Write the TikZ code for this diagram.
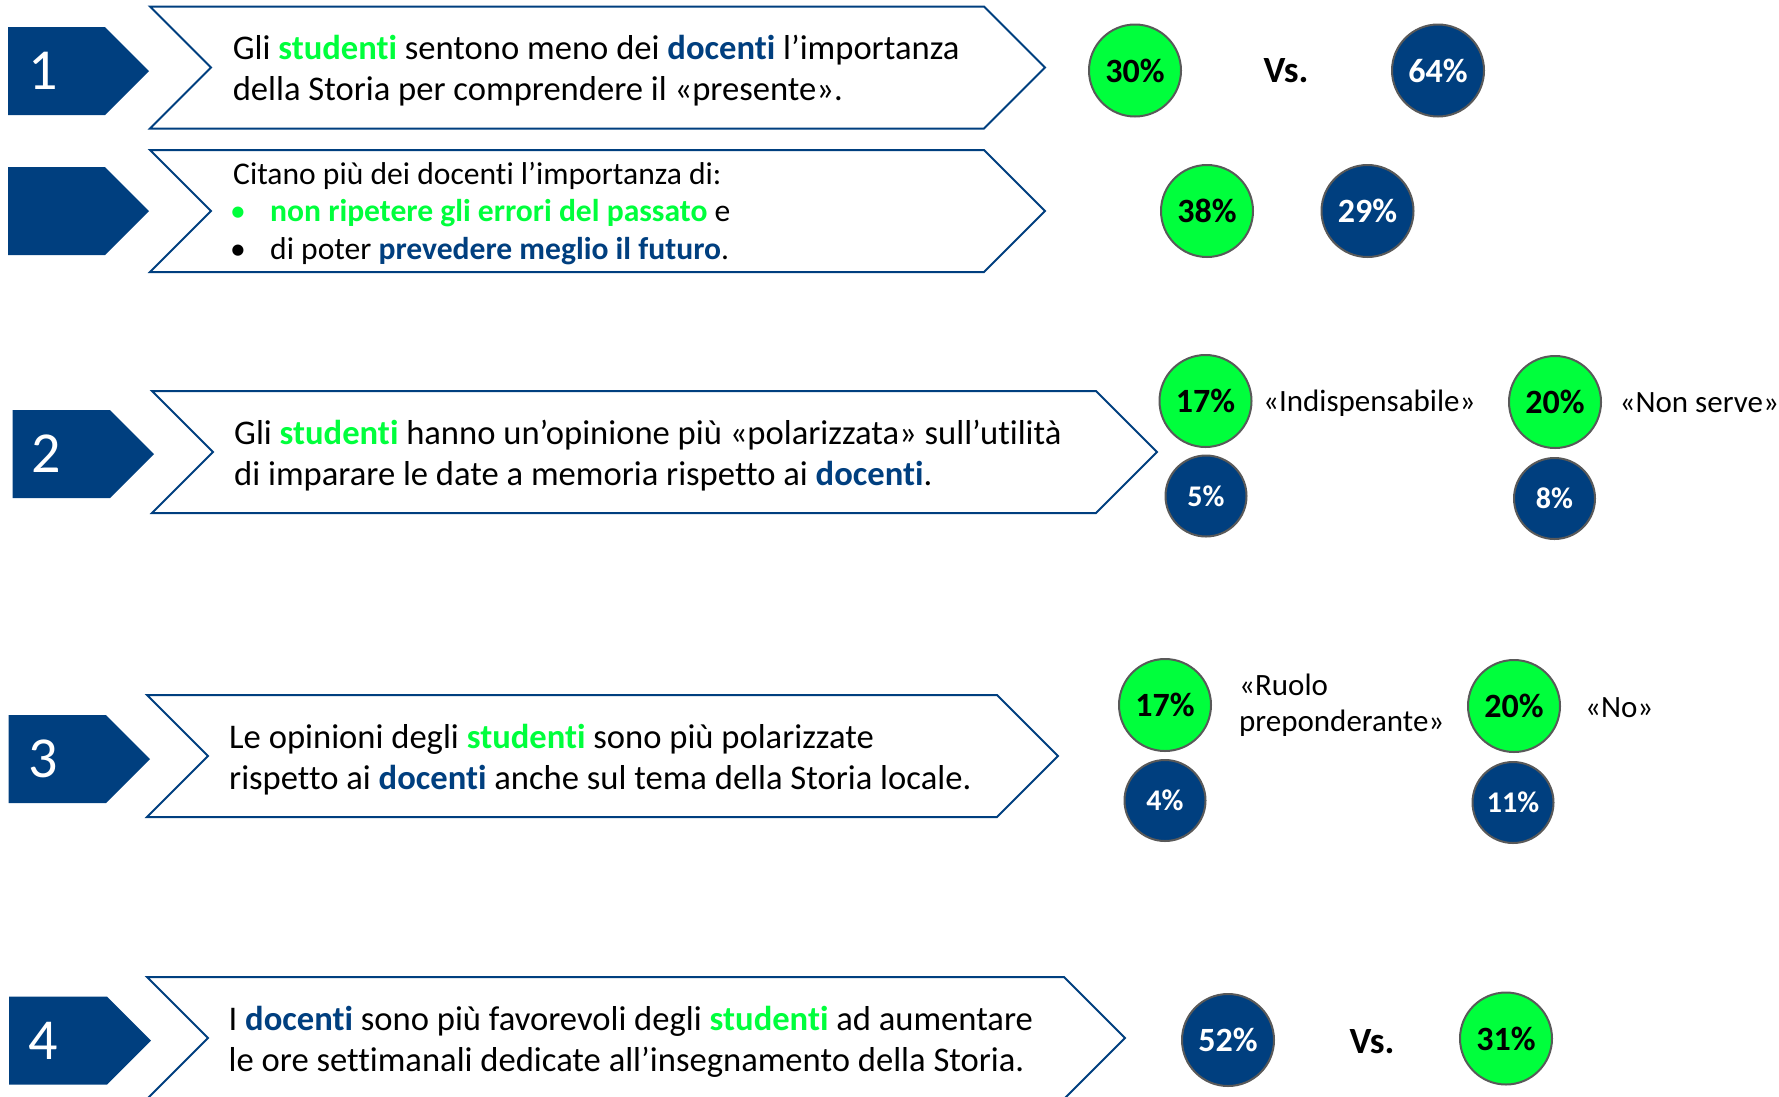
\documentclass[tikz,border=0pt]{standalone}
\usepackage{fontspec}
\setmainfont{Carlito}[Ligatures={TeX,NoCommon}]
\definecolor{dblue}{RGB}{0,63,127}
\definecolor{bgreen}{RGB}{0,255,60}
\definecolor{cgray}{RGB}{89,89,89}
\newcommand{\stud}{\textbf{\textcolor{bgreen}{studenti}}}
\newcommand{\doce}{\textbf{\textcolor{dblue}{docenti}}}
\newcommand{\chevpath}[4]{% L, M, h, T
  \draw[chevbox] (#1,#2-#3) -- (#4-#3,#2-#3) -- (#4,#2) -- (#4-#3,#2+#3) -- (#1,#2+#3) -- (#1+#3,#2) -- cycle;}
\newcommand{\numpath}[4]{% L, M, h, T
  \fill[dblue] (#1,#2-#3) -- (#4-#3,#2-#3) -- (#4,#2) -- (#4-#3,#2+#3) -- (#1,#2+#3) -- cycle;}
\tikzset{
  chevbox/.style={draw=dblue, line width=2pt, fill=white, line join=miter},
  maintxt/.style={anchor=base west, inner sep=0pt, font=\fontsize{34.6}{41}\selectfont},
  smalltxt/.style={anchor=base west, inner sep=0pt, font=\fontsize{31.6}{38}\selectfont},
  numtxt/.style={text=white, inner sep=0pt, font=\fontsize{58}{60}\selectfont},
  bigG/.style={circle, minimum size=92pt, inner sep=0pt, fill=bgreen, draw=cgray, line width=2pt, text=black, font=\fontsize{34}{40}\selectfont\bfseries},
  bigB/.style={circle, minimum size=92pt, inner sep=0pt, fill=dblue, draw=cgray, line width=2pt, text=white, font=\fontsize{34}{40}\selectfont\bfseries},
  smB/.style={circle, minimum size=81pt, inner sep=0pt, fill=dblue, draw=cgray, line width=2pt, text=white, font=\fontsize{30}{36}\selectfont\bfseries},
  lbl/.style={anchor=west, inner sep=0pt, align=left, font=\fontsize{31}{36.5}\selectfont},
  vstxt/.style={inner sep=0pt, font=\fontsize{37}{44}\selectfont\bfseries},
}
\begin{document}
\begin{tikzpicture}[x=1pt,y=-1pt]
\useasboundingbox (0,0) rectangle (1779,1096);
\clip (0,0) rectangle (1779,1096);
% ---------- row 1 ----------
\numpath{8}{71}{44}{149}
\chevpath{150}{67.5}{61}{1045}
\node[numtxt] (n1) at (43,71) {1};
\node[maintxt] (t1a) at (232.6,59) {Gli \stud{} sentono meno dei \doce{} l’importanza};
\node[maintxt] (t1b) at (232.6,100) {della Storia per comprendere il «presente».};
\node[bigG] (c30) at (1135,70.5) {30\%};
\node[vstxt] (vs1) at (1286,71) {Vs.};
\node[bigB] (c64) at (1438,70.5) {64\%};
% ---------- row 1b ----------
\numpath{8}{211}{44}{149}
\chevpath{150}{211}{61}{1045}
\node[smalltxt] (t1c) at (233,184) {Citano più dei docenti l’importanza di:};
\node[smalltxt, text=bgreen] (b1) at (230,221.5) {•};
\node[smalltxt] (t1d) at (270,221.5) {\textbf{\textcolor{bgreen}{non ripetere gli errori del passato}} e};
\node[smalltxt] (b2) at (230,259) {•};
\node[smalltxt] (t1e) at (270,259) {di poter \textbf{\textcolor{dblue}{prevedere meglio il futuro}}.};
\node[bigG] (c38) at (1207,211) {38\%};
\node[bigB] (c29) at (1367.5,211) {29\%};
% ---------- row 2 ----------
\numpath{12.5}{454}{44}{154}
\chevpath{152}{452}{61}{1157}
\node[numtxt] (n2) at (46.5,454) {2};
\node[maintxt] (t2a) at (234,444) {Gli \stud{} hanno un’opinione più «polarizzata» sull’utilità};
\node[maintxt] (t2b) at (234,485) {di imparare le date a memoria rispetto ai \doce.};
\node[bigG] (c17a) at (1205.5,401) {17\%};
\node[lbl] (l2a) at (1263,403) {«Indispensabile»};
\node[bigG] (c20a) at (1555,402) {20\%};
\node[lbl] (l2b) at (1619.5,403) {«Non serve»};
\node[smB] (c5) at (1206,496) {5\%};
\node[smB] (c8) at (1554.5,498.5) {8\%};
% ---------- row 3 ----------
\numpath{8.5}{759}{44}{150}
\chevpath{147}{756}{61}{1058}
\node[numtxt] (n3) at (43.5,759) {3};
\node[maintxt] (t3a) at (229,748) {Le opinioni degli \stud{} sono più polarizzate};
\node[maintxt] (t3b) at (229,789) {rispetto ai \doce{} anche sul tema della Storia locale.};
\node[bigG] (c17b) at (1165,705) {17\%};
\node[lbl] (l3a) at (1239,705) {«Ruolo\\preponderante»};
\node[bigG] (c20b) at (1514,706) {20\%};
\node[lbl] (l3b) at (1585,708) {«No»};
\node[smB] (c4) at (1165,800.5) {4\%};
\node[smB] (c11) at (1513,802.5) {11\%};
% ---------- row 4 ----------
\numpath{9}{1040.5}{44}{151}
\chevpath{147}{1038}{61}{1125}
\node[numtxt] (n4) at (43.5,1040.5) {4};
\node[maintxt] (t4a) at (228.5,1030.5) {I \doce{} sono più favorevoli degli \stud{} ad aumentare};
\node[maintxt] (t4b) at (228.5,1071.5) {le ore settimanali dedicate all’insegnamento della Storia.};
\node[bigB] (c52) at (1228,1040) {52\%};
\node[vstxt] (vs2) at (1372,1041.7) {Vs.};
\node[bigG] (c31) at (1506,1038.5) {31\%};
\end{tikzpicture}
\end{document}
